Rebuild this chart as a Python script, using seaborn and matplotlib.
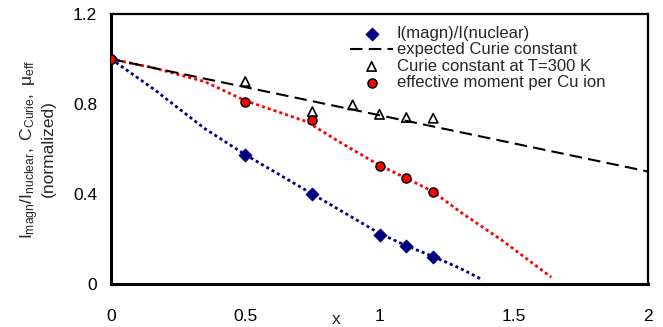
import matplotlib
matplotlib.use("Agg")
import matplotlib.pyplot as plt
import seaborn as sns
import numpy as np

# ---- data ----
x_pts = [0, 0.5, 0.75, 1.0, 1.1, 1.2]
magn_ratio = [1.0, 0.575, 0.40, 0.218, 0.168, 0.121]
mu_eff = [1.0, 0.808, 0.729, 0.526, 0.47, 0.408]

x_curie = [0.5, 0.75, 0.9, 1.0, 1.1, 1.2]
curie_300 = [0.90, 0.766, 0.796, 0.754, 0.74, 0.737]

x_expected = [0, 2]
expected_curie = [1.0, 0.5]

x_blue_fit = [0, 0.164, 0.25, 0.35, 0.5, 0.75, 1.0, 1.1, 1.2, 1.3, 1.385]
blue_fit = [1.0, 0.862, 0.782, 0.69, 0.575, 0.40, 0.225, 0.17, 0.122, 0.07, 0.018]

x_red_fit = [0, 0.164, 0.35, 0.5, 0.73, 0.85, 1.0, 1.1, 1.2, 1.3, 1.46, 1.64]
red_fit = [1.0, 0.959, 0.899, 0.815, 0.721, 0.632, 0.528, 0.47, 0.41, 0.321, 0.191, 0.03]

x_ticks = [0, 0.5, 1, 1.5, 2]
x_ticklabels = ["0", "0.5", "1", "1.5", "2"]
y_ticks = [0, 0.4, 0.8, 1.2]
y_ticklabels = ["0", "0.4", "0.8", "1.2"]
y_minor = [0.2, 0.6, 1.0]

labels = ["I(magn)/I(nuclear)", "expected Curie constant",
          "Curie constant at T=300 K", "effective moment per Cu ion"]

# ---- style ----
sns.set_style("white")
plt.rcParams["font.family"] = ["Liberation Sans", "DejaVu Sans"]
plt.rcParams["mathtext.fontset"] = "custom"
plt.rcParams["mathtext.rm"] = "Liberation Sans"
plt.rcParams["mathtext.it"] = "Liberation Sans"

fig = plt.figure(figsize=(6.63, 3.27), dpi=100)
ax = fig.add_axes([111 / 663, 1 - 284 / 327, 537 / 663, 270 / 327])

navy = "#000080"
red = "#FF0000"

# fit curves (dotted)
sns.lineplot(x=x_blue_fit, y=blue_fit, ax=ax, color=navy, lw=2.0,
             linestyle=(0, (1.1, 1.1)), legend=False, zorder=2)
sns.lineplot(x=x_red_fit, y=red_fit, ax=ax, color=red, lw=2.0,
             linestyle=(0, (1.1, 1.1)), legend=False, zorder=2)

# data
sns.scatterplot(x=x_pts, y=magn_ratio, ax=ax, marker="D", s=45, color=navy,
                edgecolor=navy, linewidth=0.5, label=labels[0], zorder=4)
sns.lineplot(x=x_expected, y=expected_curie, ax=ax, color="black", lw=1.5,
             linestyle=(0, (6, 3)), label=labels[1], zorder=3)
sns.scatterplot(x=x_curie, y=curie_300, ax=ax, marker="^", s=45,
                facecolor="none", edgecolor="black", linewidth=1.2,
                label=labels[2], zorder=4)
sns.scatterplot(x=x_pts, y=mu_eff, ax=ax, marker="o", s=42, color=red,
                edgecolor="black", linewidth=1.1, label=labels[3], zorder=5)

ax.set_xlim(0, 2)
ax.set_ylim(0, 1.2)
ax.set_xticks(x_ticks)
ax.set_xticklabels(x_ticklabels)
ax.set_yticks(y_ticks)
ax.set_yticklabels(y_ticklabels)
ax.set_yticks(y_minor, minor=True)

ax.tick_params(axis="both", which="both", direction="in", length=6,
               width=1.3, color="black", labelsize=12.5, labelcolor="black")
ax.tick_params(axis="x", pad=18)
ax.tick_params(axis="y", pad=10)

for side in ["left", "bottom"]:
    ax.spines[side].set_linewidth(2.2)
for side in ["top", "right"]:
    ax.spines[side].set_linewidth(1.6)
for s in ax.spines.values():
    s.set_color("black")
    s.set_visible(True)

ax.set_xlabel("x", fontsize=12.5)
ax.xaxis.set_label_coords(0.419, -0.105)
ax.set_ylabel("$\\mathregular{I_{magn}/I_{nuclear},\\ C_{Curie},\\ μ_{eff}}$\n(normalized)",
              fontsize=12.5, linespacing=1.0)
ax.yaxis.set_label_coords(-0.102, 0.5)

leg = ax.legend(loc="upper left", bbox_to_anchor=(0.445, 0.955), frameon=False,
                fontsize=12, labelspacing=0.08, handlelength=2.6,
                handletextpad=0.2, borderpad=0, borderaxespad=0)

fig.savefig("out.png", dpi=100)
